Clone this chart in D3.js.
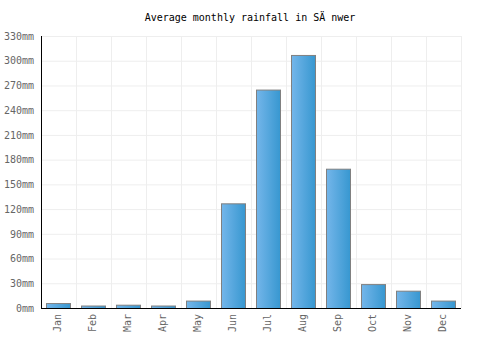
<!DOCTYPE html>
<html><head><meta charset="utf-8">
<script src="https://cdn.jsdelivr.net/npm/d3@7"></script>
<style>body{margin:0;background:#fff}</style>
</head><body>
<svg id="c" width="500" height="350"></svg>
<script>
const months = ["Jan","Feb","Mar","Apr","May","Jun","Jul","Aug","Sep","Oct","Nov","Dec"];
const rainfall = [6, 3, 4, 3, 9, 127, 265, 307, 169, 29, 21, 9];
const yTicks = [0,30,60,90,120,150,180,210,240,270,300,330];
const title = "Average monthly rainfall in SÄ nwer";

const svg = d3.select("#c");
const m = {l:41, r:461, t:36, b:308};
const font = "'DejaVu Sans Mono', monospace";
const x = d3.scaleBand().domain(months).range([m.l, m.r]).padding(0);
const y = d3.scaleLinear().domain([0,330]).range([m.b, m.t]);

const defs = svg.append("defs");
const g = defs.append("linearGradient").attr("id","bg").attr("x1","0").attr("x2","1").attr("y1","0").attr("y2","0");
g.append("stop").attr("offset","0").attr("stop-color","#74b6ea");
g.append("stop").attr("offset","1").attr("stop-color","#3797d0");

// grid
svg.append("g").selectAll("line.h").data(yTicks.slice(1)).join("line")
  .attr("x1", m.l).attr("x2", m.r).attr("y1", d=>y(d)+0.5).attr("y2", d=>y(d)+0.5)
  .attr("stroke","#eeeeee").attr("stroke-width",1);
svg.append("g").selectAll("line.v").data(months.slice(1).concat(["__end"])).join("line")
  .attr("x1", (d,i)=> (i<11? x(d): m.r)+0.5).attr("x2",(d,i)=> (i<11? x(d): m.r)+0.5)
  .attr("y1", m.t).attr("y2", m.b)
  .attr("stroke","#eeeeee").attr("stroke-width",1);

// bars
const bw = 24, off = 5;
svg.append("g").selectAll("rect").data(rainfall).join("rect")
  .attr("x", (d,i)=> x(months[i]) + off + 0.5)
  .attr("y", d=> y(d) + 0.5)
  .attr("width", bw)
  .attr("height", d=> Math.max(0, m.b - y(d)))
  .attr("fill","url(#bg)").attr("stroke","#808080").attr("stroke-width",1);

// axes
const ya = d3.axisLeft(y).tickValues(yTicks).tickFormat(d=>d+"mm").tickSize(0).tickPadding(6);
const yg = svg.append("g").attr("transform",`translate(${m.l},0)`).call(ya);
yg.select(".domain").remove();
yg.selectAll("text").attr("font-family",font).attr("font-size","10px").attr("fill","#666").attr("dx","-1");
svg.append("line").attr("x1",m.l+0.5).attr("x2",m.l+0.5).attr("y1",m.t).attr("y2",m.b+1).attr("stroke","#000");
svg.append("line").attr("x1",m.l).attr("x2",m.r).attr("y1",m.b+0.5).attr("y2",m.b+0.5).attr("stroke","#000").attr("stroke-width",1.2);

const xa = d3.axisBottom(x).tickSize(0).tickPadding(0);
const xg = svg.append("g").attr("transform",`translate(0,${m.b})`).call(xa);
xg.select(".domain").remove();
xg.selectAll("text").attr("font-family",font).attr("font-size","10px").attr("fill","#666")
  .attr("transform","rotate(-90)").attr("text-anchor","end").attr("x",-6).attr("y",0).attr("dy","0.35em");
xg.selectAll(".tick").each(function(d){ d3.select(this).attr("transform",`translate(${x(d)+x.bandwidth()/2-1},0)`); });

svg.append("text").attr("x",250).attr("y",21).attr("text-anchor","middle")
  .attr("font-family",font).attr("font-size","10px").attr("fill","#000").text(title);
</script>
</body></html>
